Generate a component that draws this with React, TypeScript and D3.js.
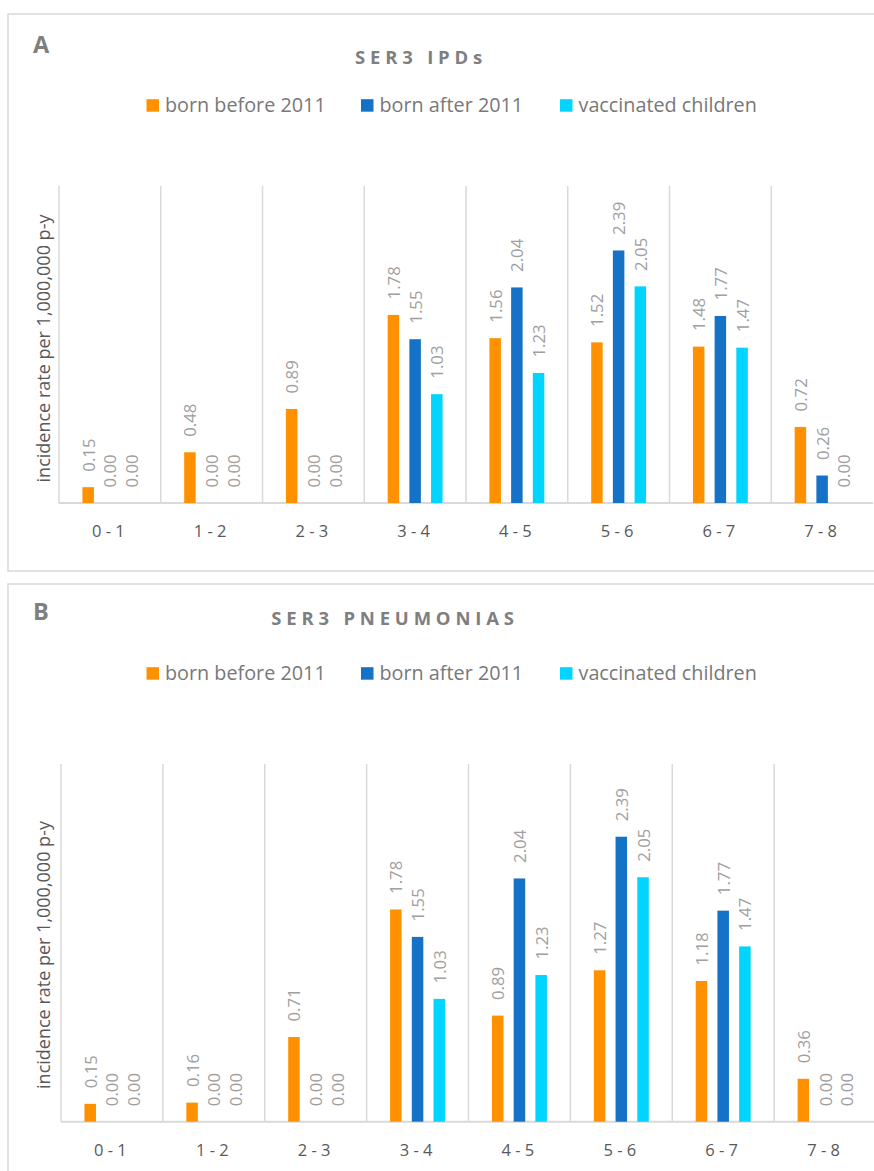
import React from 'react';
import * as d3 from 'd3';

const categories = ['0 - 1', '1 - 2', '2 - 3', '3 - 4', '4 - 5', '5 - 6', '6 - 7', '7 - 8'];
const seriesNames = ['born before 2011', 'born after 2011', 'vaccinated children'];
const seriesColors = ['#FF9100', '#1572C6', '#00D4FF'];

const ipdBefore = [0.15, 0.48, 0.89, 1.78, 1.56, 1.52, 1.48, 0.72];
const ipdAfter = [0.0, 0.0, 0.0, 1.55, 2.04, 2.39, 1.77, 0.26];
const ipdVaccinated = [0.0, 0.0, 0.0, 1.03, 1.23, 2.05, 1.47, 0.0];

const pneuBefore = [0.15, 0.16, 0.71, 1.78, 0.89, 1.27, 1.18, 0.36];
const pneuAfter = [0.0, 0.0, 0.0, 1.55, 2.04, 2.39, 1.77, 0.0];
const pneuVaccinated = [0.0, 0.0, 0.0, 1.03, 1.23, 2.05, 1.47, 0.0];

const yDomain = [0, 3];
const yAxisTitle = 'incidence rate per 1,000,000 p-y';

const FONT = "'Open Sans', sans-serif";

type Layout = {
  boxY: number;
  boxH: number;
  letterY: number;
  titleX: number;
  titleY: number;
  legendY: number;
  x0: number;
  x1: number;
  yTop: number;
  yBase: number;
  yTitleY: number;
};

const legendSquareX = [146.5, 361, 560];

function Panel({ letter, title, series, layout }: { letter: string; title: string; series: number[][]; layout: Layout }) {
  const x = d3.scaleBand<string>().domain(categories).range([layout.x0, layout.x1]).paddingInner(0).paddingOuter(0);
  const inner = d3
    .scaleBand<string>()
    .domain(seriesNames)
    .range([0, x.bandwidth()])
    .paddingInner(0.47)
    .paddingOuter(1.08);
  const y = d3.scaleLinear().domain(yDomain).range([layout.yBase, layout.yTop]);
  const fmt = d3.format('.2f');

  return (
    <g>
      <rect x={8} y={layout.boxY} width={900} height={layout.boxH} fill="#fff" stroke="#d9d9d9" strokeWidth={1.5} />
      <text x={33} y={layout.letterY} fontFamily={FONT} fontWeight={700} fontSize={23.5} fill="#7f7f7f">
        {letter}
      </text>
      <text
        x={layout.titleX}
        y={layout.titleY}
        textAnchor="middle"
        fontFamily={FONT}
        fontWeight={700}
        fontSize={18.5}
        letterSpacing={4.8}
        fill="#7f7f7f"
      >
        {title}
      </text>
      {seriesNames.map((s, i) => (
        <g key={s}>
          <rect x={legendSquareX[i]} y={layout.legendY - 6.3} width={12.5} height={12.5} fill={seriesColors[i]} />
          <text x={legendSquareX[i] + 18.5} y={layout.legendY + 6.5} fontFamily={FONT} fontSize={19.8} fill="#787878">
            {s}
          </text>
        </g>
      ))}
      {categories.map((c) => (
        <line
          key={'g' + c}
          x1={x(c)!}
          x2={x(c)!}
          y1={layout.yTop}
          y2={layout.yBase}
          stroke="#d9d9d9"
          strokeWidth={1.5}
        />
      ))}
      <line x1={layout.x0} x2={layout.x1} y1={layout.yBase} y2={layout.yBase} stroke="#d9d9d9" strokeWidth={2} />
      {categories.map((c, ci) =>
        seriesNames.map((s, si) => {
          const v = series[si][ci];
          const bx = x(c)! + inner(s)!;
          const cx = bx + inner.bandwidth() / 2;
          const top = y(v);
          return (
            <g key={c + s}>
              {v > 0 && (
                <rect x={bx} y={top} width={inner.bandwidth()} height={layout.yBase - top} fill={seriesColors[si]} />
              )}
              <text
                transform={`translate(${cx},${top - 15.5}) rotate(-90)`}
                dominantBaseline="central"
                fontFamily={FONT}
                fontSize={16.8}
                fill="#a0a0a0"
              >
                {fmt(v)}
              </text>
            </g>
          );
        })
      )}
      {categories.map((c) => (
        <text
          key={'c' + c}
          x={x(c)! + x.bandwidth() / 2 - 1.5}
          y={layout.yBase + 34}
          textAnchor="middle"
          fontFamily={FONT}
          fontSize={16.5}
          fill="#595959"
        >
          {c}
        </text>
      ))}
      <text
        transform={`translate(43,${layout.yTitleY}) rotate(-90)`}
        textAnchor="middle"
        dominantBaseline="central"
        fontFamily={FONT}
        fontSize={18}
        fill="#595959"
      >
        {yAxisTitle}
      </text>
    </g>
  );
}

export default function App() {
  const layoutA: Layout = {
    boxY: 14,
    boxH: 557,
    letterY: 53,
    titleX: 421,
    titleY: 64,
    legendY: 105.5,
    x0: 59,
    x1: 873,
    yTop: 186,
    yBase: 503,
    yTitleY: 348.5,
  };
  const layoutB: Layout = {
    boxY: 584,
    boxH: 700,
    letterY: 620,
    titleX: 395,
    titleY: 625,
    legendY: 673.5,
    x0: 61,
    x1: 876,
    yTop: 764,
    yBase: 1121.7,
    yTitleY: 955,
  };
  return (
    <div style={{ position: 'absolute', left: 0, top: 0, width: 874, height: 1171, overflow: 'hidden' }}>
      <svg width={874} height={1171} style={{ display: 'block', background: '#fff' }}>
        <rect x={0} y={0} width={874} height={1171} fill="#fff" />
        <Panel letter="A" title="SER3 IPDs" series={[ipdBefore, ipdAfter, ipdVaccinated]} layout={layoutA} />
        <Panel letter="B" title="SER3 PNEUMONIAS" series={[pneuBefore, pneuAfter, pneuVaccinated]} layout={layoutB} />
      </svg>
    </div>
  );
}
